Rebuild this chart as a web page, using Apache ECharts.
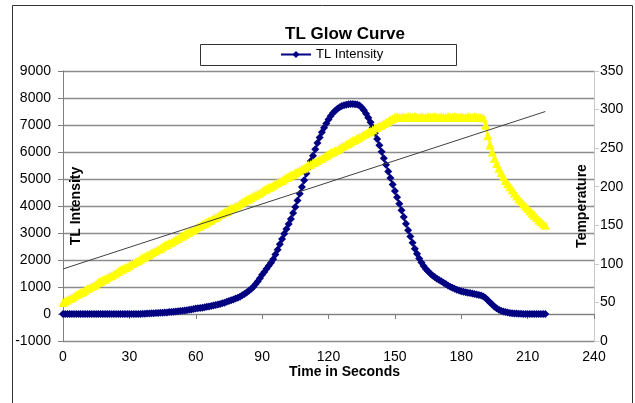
<!DOCTYPE html>
<html><head><meta charset="utf-8">
<script src="https://cdn.jsdelivr.net/npm/echarts@6/dist/echarts.min.js"></script>
<style>html,body{margin:0;padding:0;background:#fff}#c{width:635px;height:403px}</style>
</head><body><div id="c"></div>
<script>
const chartTitle = 'TL Glow Curve';
const seriesNames = ['TL Intensity', 'Temperature'];
const axisNames = ['Time in Seconds', 'TL Intensity', 'Temperature'];
const sampleStartSec = 0, sampleStepSec = 1;

// TL intensity, one reading per second, t = 0 .. 218 s
const tlIntensity = [
  0,0,0,0,0,0,0,0,0,0, 0,0,0,0,0,0,0,0,0,0, 0,0,0,0,0,0,0,0,0,0, 0,0,0,0,0,0,
  5,10,15,20,25,
  30,35,40,45,50,55,60,70,75,80,
  90,100,110,120,130,140,155,170,185,200,
  210,220,235,250,265,280,300,315,335,355,
  375,395,420,450,480,510,540,570,600,640,
  690,740,800,860,930,1000,1100,1200,1320,1450,
  1560,1680,1790,1900,2030,2200,2380,2580,2780,2970,
  3150,3330,3520,3740,3960,4200,4450,4700,4950,5200,
  5430,5670,5860,6100,6330,6540,6730,6900,7060,7200,
  7330,7440,7530,7600,7660,7700,7730,7750,7765,7775,7775,7770,
  7755,7720,7650,7550,7420,7270,7100,6910,6700,6480,
  6250,6010,5770,5530,5280,5040,4800,4560,4320,4080,
  3840,3590,3340,3100,2870,2640,2420,2230,2060,1910,
  1780,1670,1580,1500,1430,1370,1310,1260,1210,1160,
  1110,1060,1010,970,935,900,870,845,825,805,
  790,775,760,745,725,705,685,650,590,510,
  430,350,270,210,160,120,90,70,55,40,
  30,20,15,10,5,
  0,0,0,0,0,0,0,0,0,0,0
];

// Temperature, one reading per second, t = 0 .. 218 s
const temperature = [
  50,52,53,55,56,58,60,61,63,64,
  66,68,69,71,72,74,76,77,79,80,
  82,84,85,87,88,90,92,93,95,96,
  98,100,101,103,104,106,108,109,111,112,
  114,116,117,119,120,122,124,125,127,128,
  130,132,133,135,136,138,140,141,143,144,
  146,148,149,151,152,154,156,157,159,160,
  162,164,165,167,168,170,172,173,175,176,
  178,180,181,183,184,186,188,189,191,192,
  194,196,197,199,200,202,204,205,207,208,
  210,212,213,215,216,218,220,221,223,224,
  226,228,229,231,232,234,236,237,239,240,
  242,244,245,247,248,250,252,253,255,256,
  258,260,261,263,264,266,268,269,271,272,
  274,276,277,279,280,282,284,285,287,288,
  290,
  291,290,290,291,290,291,290,290,291,290,
  290,291,290,290,291,290,290,291,290,290,
  291,290,290,291,290,290,291,290,290,291,
  290,290,291,290,290,291,290,290,290,
  289,
  280,266,254,245,237,230,224,218,213,208,
  204,200,196,192,188,184,181,178,175,172,
  169,166,163,160,157,155,152,150
];

const xAxisRange = { min: 0, max: 240, interval: 30 };
const leftAxisRange = { min: -1000, max: 9000, interval: 1000 };
const rightAxisRange = { min: 0, max: 350, interval: 50 };

const times = tlIntensity.map((_, i) => sampleStartSec + i * sampleStepSec);
const intensityData = times.map((t, i) => [t, tlIntensity[i]]);
const tempData = times.map((t, i) => [t, temperature[i]]);

// linear trendline (least squares) of the temperature series
const n = temperature.length;
const mt = times.reduce((a, b) => a + b, 0) / n;
const mT = temperature.reduce((a, b) => a + b, 0) / n;
let sxy = 0, sxx = 0;
for (let i = 0; i < n; i++) { sxy += (times[i] - mt) * (temperature[i] - mT); sxx += (times[i] - mt) ** 2; }
const slope = sxy / sxx, icpt = mT - slope * mt;
const trendData = [[times[0], icpt + slope * times[0]], [times[n - 1], icpt + slope * times[n - 1]]];

const FONT = 'Liberation Sans, Arial, sans-serif';
const plain = v => String(v);
const chart = echarts.init(document.getElementById('c'), null, { renderer: 'canvas' });
chart.setOption({
  animation: false,
  backgroundColor: '#fff',
  textStyle: { fontFamily: FONT, color: '#000' },
  title: {
    text: chartTitle, left: 340, textAlign: 'center', top: 21,
    textStyle: { fontFamily: FONT, fontSize: 17, fontWeight: 'bold', color: '#000' }
  },
  graphic: [
    { type: 'rect', shape: { x: 12.5, y: 5.5, width: 620, height: 420 }, style: { fill: 'none', stroke: '#333', lineWidth: 1 }, silent: true },
    { type: 'rect', shape: { x: 200.5, y: 44.5, width: 256, height: 21 }, style: { fill: 'none', stroke: '#333', lineWidth: 1 }, silent: true }
  ],
  legend: {
    data: [seriesNames[0]], left: 280, top: 48, itemWidth: 30, itemHeight: 9, itemGap: 10,
    textStyle: { fontFamily: FONT, fontSize: 13, color: '#000' }, padding: 0
  },
  grid: { left: 63, right: 41, top: 71, bottom: 62, containLabel: false, outerBoundsMode: 'none' },
  xAxis: {
    type: 'value', min: xAxisRange.min, max: xAxisRange.max, interval: xAxisRange.interval,
    name: axisNames[0], nameLocation: 'middle', nameGap: 24, nameMoveOverlap: false,
    nameTextStyle: { fontFamily: FONT, fontSize: 14, fontWeight: 'bold', color: '#000', padding: [0, 0, 0, 32] },
    axisLine: { onZero: true, onZeroAxisIndex: 0, lineStyle: { color: '#808080', width: 1 } },
    axisTick: { show: true, length: 5, lineStyle: { color: '#808080' } },
    axisLabel: { fontFamily: FONT, fontSize: 14, color: '#000', margin: 9, formatter: plain },
    splitLine: { show: false }
  },
  yAxis: [
    {
      type: 'value', min: leftAxisRange.min, max: leftAxisRange.max, interval: leftAxisRange.interval,
      position: 'left', name: axisNames[1], nameLocation: 'middle', nameGap: -20.5, nameRotate: 90,
      nameMoveOverlap: false,
      nameTextStyle: { fontFamily: FONT, fontSize: 14, fontWeight: 'bold', color: '#000' },
      axisLine: { show: true, onZero: false, lineStyle: { color: '#808080', width: 1 } },
      axisTick: { show: true, length: 5, lineStyle: { color: '#808080' } },
      axisLabel: { fontFamily: FONT, fontSize: 14, color: '#000', margin: 12, formatter: plain },
      splitLine: { show: true, lineStyle: { color: '#8c8c8c', width: 1.3 } }
    },
    {
      type: 'value', min: rightAxisRange.min, max: rightAxisRange.max, interval: rightAxisRange.interval,
      position: 'right', name: axisNames[2], nameLocation: 'middle', nameGap: -18.5, nameRotate: 90,
      nameMoveOverlap: false,
      nameTextStyle: { fontFamily: FONT, fontSize: 14, fontWeight: 'bold', color: '#000' },
      axisLine: { show: true, onZero: false, lineStyle: { color: '#c8c8c8', width: 1 } },
      axisTick: { show: true, length: 5, lineStyle: { color: '#c8c8c8' } },
      axisLabel: { fontFamily: FONT, fontSize: 14, color: '#000', margin: 6, formatter: plain },
      splitLine: { show: false }
    }
  ],
  series: [
    {
      name: seriesNames[0], type: 'line', yAxisIndex: 0, data: intensityData, z: 2,
      symbol: 'diamond', symbolSize: 8, showAllSymbol: true,
      itemStyle: { color: '#000080' }, lineStyle: { color: '#000080', width: 1.5 }
    },
    {
      name: seriesNames[1], type: 'line', yAxisIndex: 1, data: tempData, z: 3,
      symbol: 'triangle', symbolSize: 9, showAllSymbol: true,
      itemStyle: { color: '#ffff00' }, lineStyle: { color: '#ffff00', width: 2 }
    },
    {
      name: 'Linear (' + seriesNames[1] + ')', type: 'line', yAxisIndex: 1, data: trendData, z: 4,
      symbol: 'none', silent: true, lineStyle: { color: '#404040', width: 1 }
    }
  ]
});
</script></body></html>
